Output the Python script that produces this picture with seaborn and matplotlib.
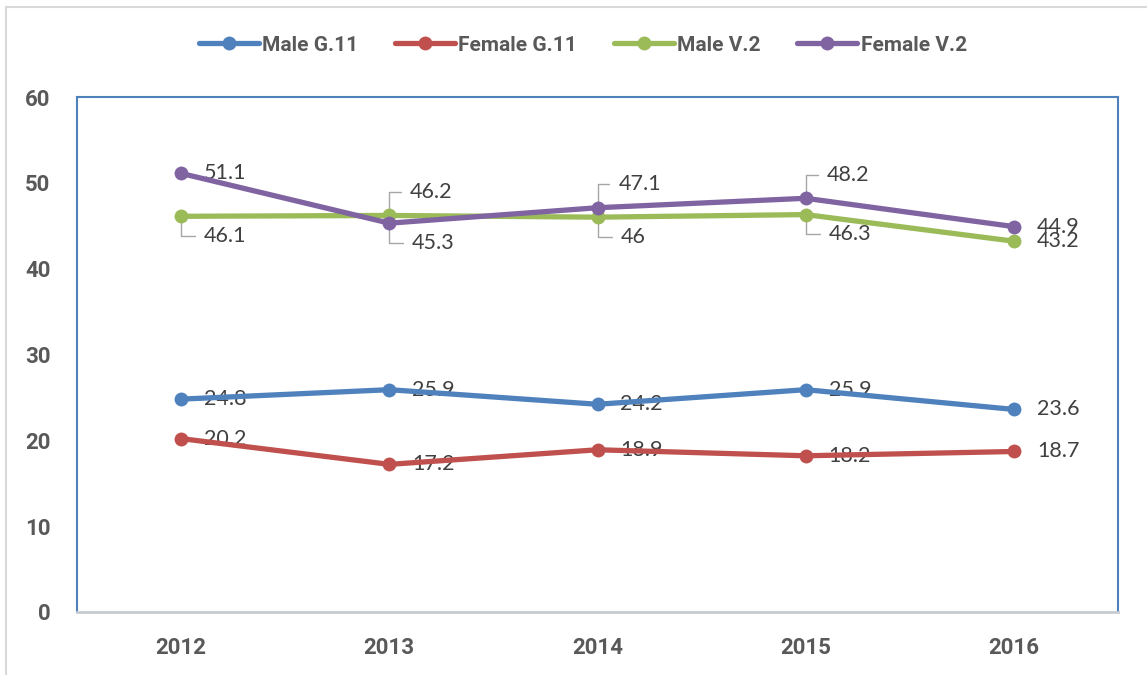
import matplotlib
matplotlib.use('Agg')
import matplotlib.pyplot as plt
from matplotlib.lines import Line2D
import seaborn as sns
import pandas as pd

years = [2012, 2013, 2014, 2015, 2016]
male_g11 = [24.8, 25.9, 24.2, 25.9, 23.6]
female_g11 = [20.2, 17.2, 18.9, 18.2, 18.7]
male_v2 = [46.1, 46.2, 46, 46.3, 43.2]
female_v2 = [51.1, 45.3, 47.1, 48.2, 44.9]
series_names = ['Male G.11', 'Female G.11', 'Male V.2', 'Female V.2']
y_ticks = [0, 10, 20, 30, 40, 50, 60]

colors = ['#4F81BD', '#C0504D', '#9BBB59', '#8064A2']
# where each data label sits: r = right, a = above with leader, b = below with leader
label_pos = [
    ['r', 'r', 'r', 'r', 'r'],
    ['r', 'r', 'r', 'r', 'r'],
    ['b', 'a', 'b', 'b', 'r'],
    ['r', 'b', 'a', 'a', 'r'],
]
offsets = {'r': (16.5, 0), 'a': (15, 17), 'b': (16.5, -14)}

sns.set_style('white')
plt.rcParams['font.family'] = ['Lato', 'DejaVu Sans']
bold_font = ['Roboto', 'DejaVu Sans']

fig = plt.figure(figsize=(11.47, 6.75), dpi=100)
ax = fig.add_axes([77 / 1147, 1 - 612 / 675, (1118 - 77) / 1147, (612 - 97) / 675])

all_values = [male_g11, female_g11, male_v2, female_v2]
for name, vals, col in zip(series_names, all_values, colors):
    df = pd.DataFrame({'Year': years, 'Value': vals})
    sns.lineplot(data=df, x='Year', y='Value', color=col, marker='o', markersize=10,
                 markeredgewidth=0, linewidth=3.8, label=name, ax=ax, zorder=3)

for vals, places in zip(all_values, label_pos):
    for x, v, p in zip(years, vals, places):
        dx, dy = offsets[p]
        kw = {}
        if p != 'r':
            kw['arrowprops'] = dict(arrowstyle='-', color='#A6A6A6', lw=1,
                                    connectionstyle='angle,angleA=0,angleB=90,rad=0',
                                    shrinkA=4, shrinkB=0, relpos=(0, 0.5))
        ax.annotate(f'{v:g}', xy=(x, v), xytext=(dx, dy), textcoords='offset points',
                    ha='left', va='center', fontsize=15.5, color='#404040', zorder=2, **kw)

ax.set_xlim(2011.5, 2016.5)
ax.set_ylim(0, 60)
ax.set_xticks(years)
ax.set_xticklabels([str(y) for y in years])
ax.set_yticks(y_ticks)
ax.set_xlabel('')
ax.set_ylabel('')
ax.tick_params(axis='both', length=0, labelsize=16, labelcolor='#595959')
ax.tick_params(axis='y', pad=19)
ax.tick_params(axis='x', pad=18)
for lbl in ax.get_xticklabels() + ax.get_yticklabels():
    lbl.set_fontweight('bold')
    lbl.set_family(bold_font)

for side in ['left', 'top', 'right']:
    ax.spines[side].set_color('#4F81BD')
    ax.spines[side].set_linewidth(1.5)
ax.spines['bottom'].set_color('#C8CCD2')
ax.spines['bottom'].set_linewidth(2)

ax.legend(loc='center', bbox_to_anchor=(0.508, 0.933), bbox_transform=fig.transFigure,
          ncol=4, frameon=False, handlelength=2.9, handletextpad=0.15, columnspacing=1.75,
          prop={'weight': 'bold', 'size': 15, 'family': bold_font})
for t in ax.get_legend().get_texts():
    t.set_color('#595959')

# light outer chart frame
fig.add_artist(Line2D([6 / 1147, 6 / 1147], [0, 1 - 7 / 675], transform=fig.transFigure,
                      color='#D9D9D9', lw=1.5))
fig.add_artist(Line2D([6 / 1147, 1], [1 - 7 / 675, 1 - 7 / 675], transform=fig.transFigure,
                      color='#D9D9D9', lw=1.5))

fig.savefig('out.png', dpi=100)
